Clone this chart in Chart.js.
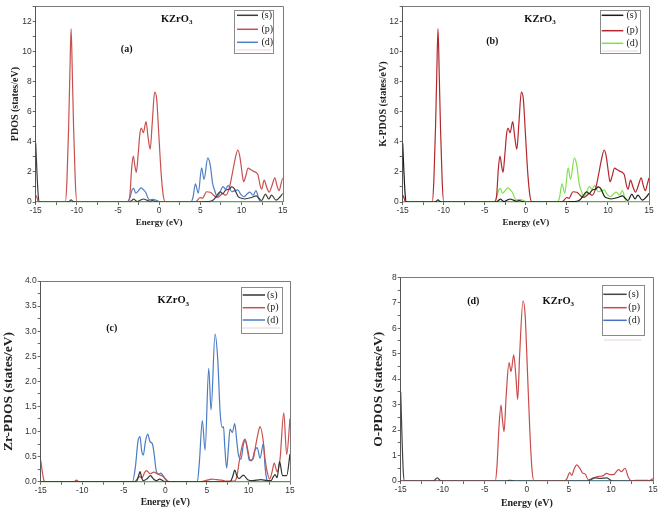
<!DOCTYPE html>
<html><head><meta charset="utf-8">
<script src="https://cdn.jsdelivr.net/npm/chart.js@4.4.0/dist/chart.umd.min.js"></script>
<style>
html,body{margin:0;padding:0;background:#fff;}
#wrap{position:relative;width:661px;height:515px;overflow:hidden;background:#fff;}
canvas{position:absolute;}
</style></head><body><div id="wrap">
<canvas id="ca" width="330" height="235" style="left:0px;top:0px;width:330px;height:235px"></canvas>
<canvas id="cb" width="331" height="235" style="left:330px;top:0px;width:331px;height:235px"></canvas>
<canvas id="cc" width="330" height="260" style="left:0px;top:255px;width:330px;height:260px"></canvas>
<canvas id="cd" width="331" height="260" style="left:330px;top:255px;width:331px;height:260px"></canvas>
</div>
<script>
// ---------- DATA (energy eV, states/eV) ----------
const orbitalLabels = ['(s)', '(p)', '(d)'];
const energyRange = [-15, 15];

// Panel (a) PDOS and panel (b) K-PDOS
const aS = [[-15,3.9],[-14.85,2.0],[-14.7,0.5],[-14.55,0],[-11.2,0],[-10.9,0.05],[-10.7,0.15],[-10.5,0.05],[-10.2,0],
  [-3.6,0],[-3.3,0.12],[-3.1,0.2],[-2.85,0.08],[-2.65,0.03],[-2.3,0.12],[-1.9,0.2],[-1.5,0.12],[-1.1,0.05],[-0.8,0.1],[-0.5,0.05],[-0.2,0],
  [4.5,0],[5.5,0.03],[6.2,0.05],[6.6,0.15],[6.9,0.35],[7.4,0.68],[7.7,0.55],[8.1,0.8],[8.5,0.85],[8.8,1.0],[9.1,0.9],[9.6,0.35],[10.0,0.25],[10.4,0.2],
  [10.8,0.25],[11.2,0.3],[11.8,0.4],[12.1,0.25],[12.45,0.1],[12.9,0.52],[13.3,0.2],[13.65,0.45],[14.2,0.12],[14.7,0.35],[15,0.57]];
const aP = [[-15,0.45],[-14.85,0.3],[-14.7,0.05],[-14.55,0],[-11.4,0],[-11.2,1.5],[-11.0,5.0],[-10.85,8.5],[-10.7,11.5],[-10.55,8.5],[-10.4,5.0],[-10.2,1.5],[-10.0,0],
  [-3.8,0],[-3.55,0.5],[-3.35,2.2],[-3.15,3.05],[-2.95,2.4],[-2.78,1.97],[-2.55,3.2],[-2.35,4.5],[-2.17,4.9],[-1.92,4.6],[-1.6,5.33],[-1.35,4.3],[-1.1,3.5],
  [-0.85,5.2],[-0.55,7.3],[-0.3,6.8],[-0.05,4.5],[0.25,1.8],[0.5,0.4],[0.75,0],
  [4.3,0],[4.7,0.15],[4.95,0.3],[5.25,0.25],[5.75,0.68],[6.2,0.65],[6.6,0.45],[7.0,0.3],[7.35,0.4],[7.7,0.55],[8.1,0.45],[8.5,0.9],[8.85,1.8],[9.2,2.8],
  [9.55,3.45],[9.8,3.0],[10.05,2.0],[10.25,1.35],[10.5,1.7],[10.8,2.25],[11.1,2.15],[11.4,2.05],[11.8,1.95],[12.0,1.8],[12.3,1.0],[12.45,0.85],[12.75,1.45],
  [13.05,1.0],[13.35,0.65],[13.7,1.1],[14.05,1.6],[14.3,1.1],[14.55,0.75],[14.8,1.2],[15,1.6]];
const aD = [[-15,0],[-3.9,0],[-3.55,0.3],[-3.3,0.8],[-3.1,0.9],[-2.85,0.58],[-2.6,0.7],[-2.2,0.94],[-1.85,0.78],[-1.6,0.6],[-1.4,0.3],[-1.15,0.15],[-0.8,0.18],
  [-0.5,0.15],[-0.2,0.08],[0.05,0],[3.85,0],[4.1,0.3],[4.4,1.2],[4.75,0.58],[5.15,2.27],[5.45,1.5],[5.9,2.93],[6.2,2.45],[6.5,1.2],[6.75,0.75],[7.05,0.35],
  [7.35,0.6],[7.75,1.02],[8.05,0.85],[8.4,1.1],[8.8,0.68],[9.2,0.75],[9.55,0.8],[9.9,0.5],[10.3,0.35],[10.7,0.55],[11.0,0.65],[11.4,0.45],[11.75,0.75],
  [12.1,0.2],[12.4,0],[15,0]];

// Panel (c) Zr-PDOS
const cS = [[-15,0],[-3.5,0],[-3.25,0.1],[-3.05,0.2],[-2.85,0.08],[-2.65,0.02],[-2.2,0.06],[-1.8,0.12],[-1.4,0.05],[-1.1,0.02],[-0.7,0.05],[-0.3,0.02],[0,0],
  [7.8,0],[8.1,0.1],[8.35,0.23],[8.6,0.12],[8.85,0.06],[9.4,0.13],[9.9,0.04],[10.5,0.02],[11.5,0.04],[12.3,0.02],[12.7,0.02],[13.0,0.1],[13.2,0.14],
  [13.45,0.08],[13.75,0.4],[14.1,0.12],[14.6,0.12],[15,0.55]];
const cP = [[-15,0.43],[-14.85,0.25],[-14.65,0.05],[-14.5,0],[-11.0,0],[-10.7,0.03],[-10.4,0],[-3.7,0],[-3.4,0.05],[-3.1,0.1],[-2.8,0.08],[-2.5,0.18],
  [-2.25,0.22],[-1.85,0.16],[-1.4,0.19],[-1.0,0.16],[-0.6,0.13],[-0.25,0.1],[0.1,0.04],[0.45,0],[4.3,0],[5.0,0.03],[5.6,0.05],[6.2,0.04],[6.8,0.03],
  [7.3,0.01],[8.3,0.01],[8.6,0.1],[8.98,0.5],[9.3,0.75],[9.6,0.85],[9.9,0.65],[10.2,0.43],[10.55,0.45],[10.9,0.75],[11.2,1.0],[11.4,1.1],[11.75,0.85],
  [12.0,0.45],[12.25,0.2],[12.55,0.05],[12.85,0.2],[13.1,0.37],[13.45,0.2],[13.8,0.45],[14.25,1.37],[14.6,0.54],[15,1.26]];
const cD = [[-15,0],[-3.95,0],[-3.6,0.3],[-3.3,0.8],[-3.05,0.9],[-2.85,0.62],[-2.65,0.53],[-2.4,0.8],[-2.12,0.95],[-1.85,0.8],[-1.55,0.75],[-1.35,0.55],
  [-1.1,0.22],[-0.8,0.15],[-0.55,0.17],[-0.2,0.1],[0.15,0.02],[0.35,0],[3.85,0],[4.1,0.4],[4.45,1.22],[4.78,0.63],[5.22,2.26],[5.5,1.43],[5.98,2.94],
  [6.3,2.45],[6.6,1.36],[6.86,1.08],[7.0,1.1],[7.15,0.7],[7.38,0.27],[7.6,0.7],[7.78,1.05],[8.06,0.98],[8.35,1.16],[8.6,0.8],[8.8,0.53],[9.1,0.45],
  [9.4,0.75],[9.6,0.83],[9.9,0.6],[10.1,0.43],[10.4,0.42],[10.75,0.62],[11.05,0.68],[11.4,0.47],[11.79,0.76],[12.0,0.3],[12.2,0.05],[12.4,0],[15,0]];

// Panel (d) O-PDOS
const dS = [[-15,3.5],[-14.85,1.8],[-14.7,0.4],[-14.55,0],[-11.1,0],[-10.65,0.12],[-10.2,0],[-2.5,0],[-2.0,0.03],[-1.5,0],[7.2,0],[7.6,0.05],
  [8.1,0.12],[8.7,0.1],[9.5,0.12],[9.9,0.05],[10.2,0],[15,0]];
const dP = [[-15,0],[-3.75,0],[-3.55,0.6],[-3.3,2.2],[-3.07,2.98],[-2.9,2.4],[-2.71,1.94],[-2.45,3.4],[-2.12,4.65],[-1.88,4.3],[-1.56,4.95],[-1.3,4.1],
  [-1.09,3.2],[-0.85,5.0],[-0.45,7.08],[-0.2,6.5],[0.05,4.5],[0.35,2.0],[0.6,0.5],[0.85,0],[4.3,0],[4.7,0.05],[5.1,0.33],[5.35,0.22],[5.6,0.45],
  [5.93,0.63],[6.3,0.5],[6.6,0.32],[6.95,0.27],[7.3,0.05],[7.9,0.12],[8.5,0.18],[9.0,0.2],[9.5,0.3],[9.9,0.25],[10.3,0.25],[10.9,0.45],[11.27,0.37],
  [11.67,0.5],[12.07,0.15],[12.47,0],[13.0,0.03],[14.0,0.03],[14.6,0.02],[15,0.1]];
const dD = [[-15,0],[15,0]];

// ---------- RENDERING ----------
const toXY = arr => arr.map(p => ({x: p[0], y: p[1]}));
const decorMap = {};
const NB6 = '\u00a0\u00a0\u00a0\u00a0\u00a0\u00a0';

function drawFormula(ctx, cx, cy) {
  const f1 = 'bold 10.5px "Liberation Serif", serif', f2 = 'bold 7px "Liberation Serif", serif';
  ctx.font = f1; const w1 = ctx.measureText('KZrO').width;
  ctx.font = f2; const w2 = ctx.measureText('3').width;
  const x0 = cx - (w1 + w2) / 2;
  ctx.fillStyle = '#111'; ctx.textAlign = 'left'; ctx.textBaseline = 'middle';
  ctx.font = f1; ctx.fillText('KZrO', x0, cy);
  ctx.font = f2; ctx.fillText('3', x0 + w1, cy + 3);
}

const decorPlugin = {
  id: 'decor',
  afterDatasetsDraw(chart) {
    const d = decorMap[chart.canvas.id];
    const ctx = chart.ctx, ca = chart.chartArea;
    ctx.save();
    ctx.strokeStyle = '#7a7a7a'; ctx.lineWidth = 1;
    ctx.beginPath();
    ctx.moveTo(ca.left, Math.round(ca.top) + 0.5);
    ctx.lineTo(Math.round(ca.right) + 0.5, Math.round(ca.top) + 0.5);
    ctx.lineTo(Math.round(ca.right) + 0.5, ca.bottom);
    ctx.stroke();
    const L = d.legend;
    ctx.fillStyle = '#fff'; ctx.fillRect(L.x0, L.y0, L.x1 - L.x0, L.y1 - L.y0);
    ctx.strokeStyle = '#8a8a8a'; ctx.lineWidth = 1;
    ctx.strokeRect(Math.round(L.x0) + 0.5, Math.round(L.y0) + 0.5, Math.round(L.x1 - L.x0), Math.round(L.y1 - L.y0));
    chart.data.datasets.forEach((ds, i) => {
      const y = L.rows[i];
      ctx.strokeStyle = ds.borderColor; ctx.lineWidth = 1.5;
      ctx.beginPath(); ctx.moveTo(L.lx0, y); ctx.lineTo(L.lx1, y); ctx.stroke();
      ctx.fillStyle = '#222'; ctx.font = '10px "Liberation Serif", serif';
      ctx.textBaseline = 'middle'; ctx.textAlign = 'left';
      ctx.fillText(ds.label, L.tx, y);
    });
    if (L.extra) {
      ctx.strokeStyle = '#e6d6d6'; ctx.lineWidth = 1;
      ctx.beginPath(); ctx.moveTo(L.x0 + 2, L.extra); ctx.lineTo(L.x1 - 2, L.extra); ctx.stroke();
    }
    drawFormula(ctx, d.formula[0], d.formula[1]);
    ctx.fillStyle = '#111'; ctx.font = 'bold 10px "Liberation Serif", serif';
    ctx.textAlign = 'center'; ctx.textBaseline = 'middle';
    ctx.fillText(d.tag, d.tagPos[0], d.tagPos[1]);
    ctx.restore();
  }
};

function makeChart(id, series, colors, yTitle, yMax, yStep, yLabelEvery, yFmt, lay, decor) {
  decorMap[id] = decor;
  const datasets = series.map((s, i) => ({
    label: orbitalLabels[i], data: toXY(s), borderColor: colors[i], borderWidth: 1.2,
    pointRadius: 0, fill: false, cubicInterpolationMode: 'monotone'
  }));
  const tickFont = {family: '"Liberation Sans", Arial, sans-serif', size: 8.5};
  const serif = '"Liberation Serif", "Times New Roman", serif';
  new Chart(document.getElementById(id), {
    type: 'line',
    data: {datasets},
    plugins: [decorPlugin],
    options: {
      responsive: false, animation: false, devicePixelRatio: 1,
      layout: {padding: {left: lay.padL, top: lay.padT, right: lay.padR, bottom: 0}},
      plugins: {legend: {display: false}, tooltip: {enabled: false}},
      scales: {
        x: {
          type: 'linear', min: energyRange[0], max: energyRange[1],
          afterFit: s => { s.height = lay.xH; },
          ticks: {stepSize: 2.5, autoSkip: false, maxRotation: 0, padding: 1, color: '#333', font: tickFont,
            callback: v => (Math.abs(v % 5) < 1e-9 ? String(v) : '')},
          grid: {display: true, drawOnChartArea: false, drawTicks: true, tickLength: 3, tickColor: '#666'},
          border: {display: true, color: '#6a9f5a', width: 1.2},
          title: {display: true, text: 'Energy (eV)', color: '#222', font: {family: serif, size: lay.xTS, weight: 'bold', lineHeight: 1.2},
            padding: {top: 0, bottom: lay.xTitlePad}}
        },
        y: {
          min: 0, max: yMax,
          afterFit: s => { s.width = lay.yW; },
          ticks: {stepSize: yStep, autoSkip: false, padding: 1, color: '#333', font: tickFont,
            callback: v => { const r = v / yLabelEvery; return Math.abs(r - Math.round(r)) < 1e-6 ? yFmt(v) : ''; }},
          grid: {display: true, drawOnChartArea: false, drawTicks: true, tickLength: 3, tickColor: '#666'},
          border: {display: true, color: '#555', width: 1},
          title: {display: true, text: yTitle, color: '#222', font: {family: serif, size: lay.yTS, weight: 'bold', lineHeight: 1.2},
            padding: {top: 0, bottom: 0}}
        }
      }
    }
  });
}

const intFmt = v => String(Math.round(v));
const oneDec = v => v.toFixed(1);

makeChart('ca', [aS, aP, aD], ['#3c3c3c', '#c8504f', '#4f7fc4'], 'PDOS (states/eV)', 13, 1, 2, intFmt,
  {padL: 9, padT: 4, padR: 47.3, yW: 26.7, xH: 33, xTitlePad: 6.9, xTS: 9, yTS: 10},
  {legend: {x0: 234, y0: 10, x1: 273, y1: 53, rows: [15.3, 29.3, 42.3], lx0: 237, lx1: 258, tx: 261.5, extra: 50},
   formula: [176.7, 19.3], tag: '(a)', tagPos: [126.7, 49.3]});

makeChart('cb', [aS, aP, aD], ['#1c1c1c', '#b3282b', '#82e04f'], 'K-PDOS (states/eV)', 13, 1, 2, intFmt,
  {padL: 47, padT: 4, padR: 12, yW: 25.7, xH: 33, xTitlePad: 6.9, xTS: 9, yTS: 10},
  {legend: {x0: 270, y0: 10, x1: 310, y1: 53, rows: [15.3, 30.7, 43.3], lx0: 271.7, lx1: 293.3, tx: 296.5, extra: 51},
   formula: [210, 19.3], tag: '(b)', tagPos: [162.3, 41]});

makeChart('cc', [cS, cP, cD], ['#333333', '#c8504f', '#4a7cc4'], 'Zr-PDOS (states/eV)' + NB6, 4, 0.25, 0.5, oneDec,
  {padL: 0, padT: 26, padR: 40, yW: 40.7, xH: 33.3, xTitlePad: 6.3, xTS: 9.5, yTS: 13.5},
  {legend: {x0: 240.7, y0: 31.7, x1: 282, y1: 77.3, rows: [40, 52.7, 65], lx0: 242.7, lx1: 265, tx: 267, extra: 73},
   formula: [173.3, 45.7], tag: '(c)', tagPos: [111.7, 73.3]});

makeChart('cd', [dS, dP, dD], ['#444444', '#cc4a4a', '#4a6ec4'], 'O-PDOS (states/eV)' + NB6, 8, 0.5, 1, intFmt,
  {padL: 40.2, padT: 22.3, padR: 8, yW: 30.5, xH: 34, xTitlePad: 6, xTS: 10, yTS: 13.5},
  {legend: {x0: 271.7, y0: 30, x1: 313.3, y1: 80, rows: [39.3, 52.7, 65.3], lx0: 273.3, lx1: 296.7, tx: 298.3, extra: 85},
   formula: [228.3, 46], tag: '(d)', tagPos: [143.3, 46]});
</script>
</body></html>
